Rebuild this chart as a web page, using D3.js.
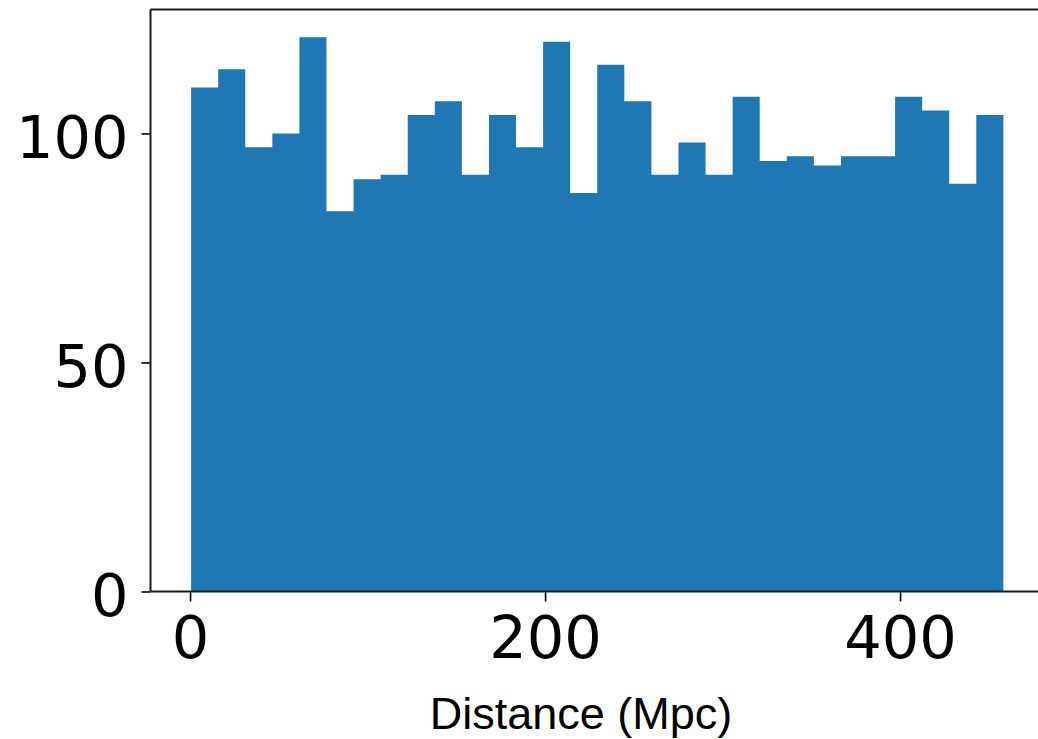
<!DOCTYPE html>
<html>
<head>
<meta charset="utf-8">
<script src="https://cdn.jsdelivr.net/npm/d3@7"></script>
<style>
  html, body { margin: 0; padding: 0; background: #fff; }
  svg { display: block; }
</style>
</head>
<body>
<div id="chart"></div>
<script>
// Histogram of source distances: 30 equal-width bins
const counts = [110, 114, 97, 100, 121, 83, 90, 91, 104, 107,
                91, 104, 97, 120, 87, 115, 107, 91, 98, 91,
                108, 94, 95, 93, 95, 95, 108, 105, 89, 104];
const binRange = [0.6, 458.2];          // Mpc, first and last bin edge
const xTicks = [0, 200, 400];
const yTicks = [0, 50, 100];
const xLabel = "Distance (Mpc)";

const W = 1038, H = 739;
const plot = { left: 150.5, right: 1044, top: 9.5, bottom: 591.5 };

const nBins = counts.length;
const binW = (binRange[1] - binRange[0]) / nBins;
const bins = counts.map((c, i) => ({
  x0: binRange[0] + i * binW,
  x1: binRange[0] + (i + 1) * binW,
  count: c
}));

// 5% padding on x, headroom of 5% on y (autoscale style)
const span = binRange[1] - binRange[0];
const x = d3.scaleLinear()
  .domain([binRange[0] - 0.05 * span, binRange[1] + 0.05 * span])
  .range([plot.left, plot.right]);
const y = d3.scaleLinear()
  .domain([0, d3.max(counts) * 1.05])
  .range([plot.bottom, plot.top]);

const svg = d3.select("#chart").append("svg")
  .attr("width", W).attr("height", H)
  .attr("viewBox", `0 0 ${W} ${H}`);

// bars drawn as one stepped outline so neighbouring bins have no seams
const area = d3.area()
  .curve(d3.curveStepAfter)
  .x(d => x(d.x))
  .y0(y(0))
  .y1(d => y(d.c));
const steps = bins.map(b => ({ x: b.x0, c: b.count }))
  .concat([{ x: binRange[1], c: counts[nBins - 1] }]);
svg.append("path")
  .datum(steps)
  .attr("d", area)
  .attr("fill", "#1f77b4");

// axes
const tickFont = "'DejaVu Sans', sans-serif";
const tickSize = 59;

const xAxis = svg.append("g")
  .attr("transform", `translate(0,${plot.bottom})`)
  .call(d3.axisBottom(x).tickValues(xTicks).tickSize(10).tickPadding(14)
    .tickFormat(d3.format("d")));
xAxis.select(".domain").remove();
xAxis.selectAll(".tick line").attr("stroke", "#000").attr("stroke-width", 1.6);
xAxis.selectAll(".tick text")
  .attr("font-family", tickFont).attr("font-size", tickSize)
  .attr("fill", "#000").attr("dy", "0.72em");

const yAxis = svg.append("g")
  .attr("transform", `translate(${plot.left},0)`)
  .call(d3.axisLeft(y).tickValues(yTicks).tickSize(9).tickPadding(13)
    .tickFormat(d3.format("d")));
yAxis.select(".domain").remove();
yAxis.selectAll(".tick line").attr("stroke", "#000").attr("stroke-width", 1.6);
yAxis.selectAll(".tick text")
  .attr("font-family", tickFont).attr("font-size", tickSize)
  .attr("fill", "#000").attr("dy", "0.41em");

// frame
const spine = svg.append("g")
  .attr("stroke", "#1a1a1a").attr("stroke-width", 2).attr("fill", "none");
spine.append("line").attr("x1", plot.left).attr("x2", plot.left)
  .attr("y1", plot.top).attr("y2", plot.bottom);
spine.append("line").attr("x1", plot.left).attr("x2", plot.right)
  .attr("y1", plot.top).attr("y2", plot.top);
spine.append("line").attr("x1", plot.left).attr("x2", plot.right)
  .attr("y1", plot.bottom).attr("y2", plot.bottom);
spine.append("line").attr("x1", plot.right).attr("x2", plot.right)
  .attr("y1", plot.top).attr("y2", plot.bottom);

// x-axis title
svg.append("text")
  .attr("x", 581)
  .attr("y", 729)
  .attr("text-anchor", "middle")
  .attr("font-family", "'Liberation Sans', Arial, sans-serif")
  .attr("font-size", 45)
  .attr("fill", "#000")
  .text(xLabel);
</script>
</body>
</html>
